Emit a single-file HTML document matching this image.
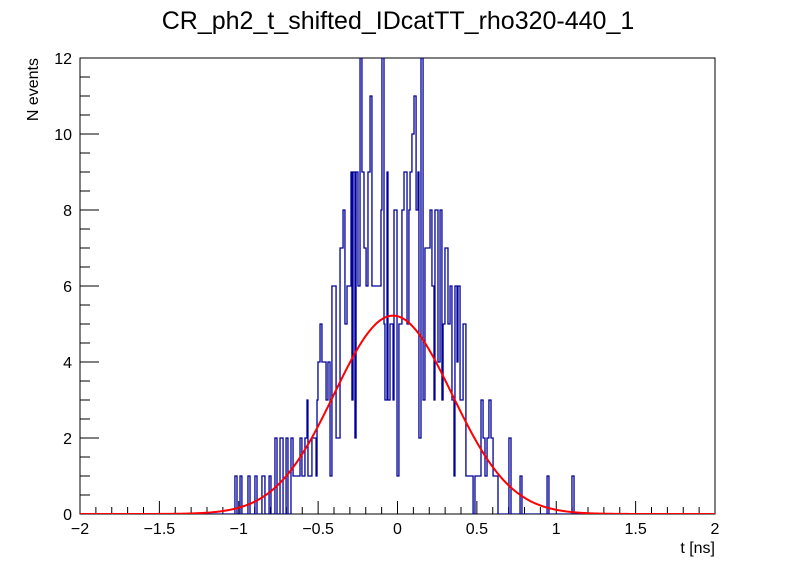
<!DOCTYPE html>
<html><head><meta charset="utf-8"><style>
html,body{margin:0;padding:0;background:#fff;}
svg{display:block;font-family:"Liberation Sans",Arial,sans-serif;}
</style></head><body>
<svg id="chart" width="796" height="572" viewBox="0 0 796 572">
<rect width="796" height="572" fill="#fff"/>
<text x="398" y="29" font-size="25" text-anchor="middle" fill="#000">CR_ph2_t_shifted_IDcatTT_rho320-440_1</text>
<g id="axes"></g>
<g id="marks"></g>
<text x="715" y="553" font-size="16" text-anchor="end">t [ns]</text>
<text transform="translate(38,58) rotate(-90)" font-size="16" text-anchor="end">N events</text>
</svg>
<script>
// step histogram: segment start (t, ns) and count held until next start
const segT = [-2,-1.024,-1.011,-0.992,-0.980,-0.942,-0.929,-0.898,-0.885,-0.854,-0.835,-0.809,-0.797,-0.772,-0.759,-0.740,-0.721,-0.702,-0.690,-0.671,-0.658,-0.614,-0.602,-0.583,-0.570,-0.564,-0.539,-0.513,-0.507,-0.501,-0.488,-0.476,-0.450,-0.438,-0.425,-0.413,-0.387,-0.362,-0.343,-0.331,-0.318,-0.293,-0.287,-0.280,-0.268,-0.261,-0.249,-0.236,-0.224,-0.211,-0.198,-0.186,-0.173,-0.161,-0.104,-0.098,-0.085,-0.079,-0.066,-0.060,-0.047,-0.028,-0.022,-0.003,0.009,0.028,0.041,0.060,0.072,0.079,0.091,0.104,0.117,0.129,0.135,0.148,0.161,0.173,0.205,0.217,0.230,0.236,0.255,0.268,0.280,0.287,0.299,0.318,0.331,0.343,0.356,0.362,0.375,0.381,0.394,0.413,0.431,0.476,0.488,0.526,0.539,0.551,0.564,0.576,0.589,0.602,0.633,0.702,0.715,0.772,0.784,0.942,0.954,1.099,1.112];
const segN = [0,1,0,1,0,1,0,1,0,1,0,1,0,2,0,2,0,2,0,2,1,2,1,2,3,1,2,1,3,4,5,4,3,4,1,6,2,7,8,5,6,9,3,9,2,9,6,12,9,7,6,9,11,6,8,12,5,3,9,3,5,3,8,1,5,8,9,5,8,9,10,11,8,9,2,12,3,7,8,6,3,8,4,8,3,5,7,5,6,3,1,6,4,6,3,5,1,0,1,3,2,1,2,3,2,1,0,2,0,1,0,1,0,1,0];
// Gaussian fit parameters
const fitConst = [5.22];
const fitMean = [-0.028];
const fitSigma = [0.37];
const xTicks = [-2,-1.5,-1,-0.5,0,0.5,1,1.5,2];
const xTickLabels = ["\u22122","\u22121.5","\u22121","\u22120.5","0","0.5","1","1.5","2"];
const yTicks = [0,2,4,6,8,10,12];
const yTickLabels = ["0","2","4","6","8","10","12"];

const X0=80,X1=715,Y0=514,Y1=58,xmin=-2,xmax=2,ymin=0,ymax=12;
const sx=t=>X0+(t-xmin)/(xmax-xmin)*(X1-X0);
const sy=v=>Y0-(v-ymin)/(ymax-ymin)*(Y0-Y1);
const NS="http://www.w3.org/2000/svg";
const axes=document.getElementById('axes'), marks=document.getElementById('marks');
function mk(tag,attrs,parent){const e=document.createElementNS(NS,tag);for(const k in attrs)e.setAttribute(k,attrs[k]);parent.appendChild(e);return e;}

const frame=mk('rect',{x:X0,y:Y1,width:X1-X0,height:Y0-Y1,fill:'none',stroke:'#000','stroke-width':1},axes);



for(let k=0;k<=40;k++){const t=xmin+k*0.1;const major=k%5===0;
 const ln=mk('line',{x1:sx(t),x2:sx(t),y1:Y0,y2:Y0-(major?13:7),stroke:'#000','stroke-width':1},axes);
 
 }
xTicks.forEach((t,i)=>{const tx=mk('text',{x:sx(t),y:Y0+20,'font-size':16,'text-anchor':'middle'},axes);tx.textContent=xTickLabels[i];
 
 });
for(let k=0;k<=24;k++){const v=k*0.5;const major=k%4===0;
 const ln=mk('line',{x1:X0,x2:X0+(major?19:10),y1:sy(v),y2:sy(v),stroke:'#000','stroke-width':1},axes);
 
 }
yTicks.forEach((v,i)=>{const tx=mk('text',{x:X0-8,y:sy(v)+6,'font-size':16,'text-anchor':'end'},axes);tx.textContent=yTickLabels[i];
 
 });

const defs=mk('defs',{},marks);const cp=mk('clipPath',{id:'pc'},defs);mk('rect',{x:X0,y:Y1,width:X1-X0,height:Y0-Y1},cp);
let d='M'+sx(segT[0])+','+sy(segN[0]);
for(let i=0;i<segT.length;i++){const t0=segT[i],t1=i+1<segT.length?segT[i+1]:xmax;
 d+=' L'+sx(t0)+','+sy(segN[i])+' L'+sx(t1)+','+sy(segN[i]);}
const h=mk('path',{d:d,fill:'none',stroke:'#000099','stroke-width':1.3,'clip-path':'url(#pc)'},marks);


let g='';for(let k=0;k<=400;k++){const t=xmin+k*(xmax-xmin)/400;const v=fitConst[0]*Math.exp(-Math.pow(t-fitMean[0],2)/(2*fitSigma[0]*fitSigma[0]));g+=(k?' L':'M')+sx(t).toFixed(2)+','+sy(v).toFixed(2);}
const f=mk('path',{d:g,fill:'none',stroke:'#ff0000','stroke-width':2,'clip-path':'url(#pc)'},marks);


</script>
</body></html>
